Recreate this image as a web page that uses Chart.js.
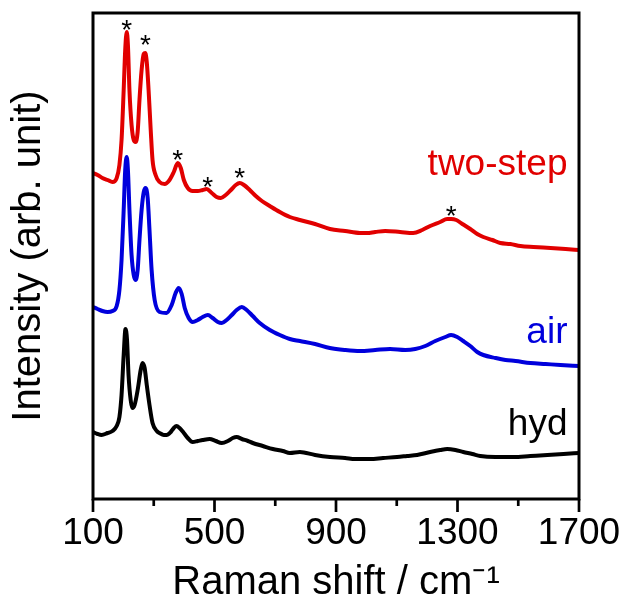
<!DOCTYPE html>
<html><head><meta charset="utf-8">
<script src="https://cdn.jsdelivr.net/npm/chart.js@4.4.1/dist/chart.umd.min.js"></script>
<style>html,body{margin:0;padding:0;background:#fff;}canvas{display:block;}</style>
</head><body>
<canvas id="c" width="624" height="599"></canvas>
<script>
// ---- data (Raman shift in cm-1, intensity in arbitrary units) ----
const shiftTwoStep = [100,115,131,148,164,178,187,194,201,206,211,215,220,227,234,240,247,253,260,267,272,277,283,290,296,306,319,336,352,366,379,389,399,412,428,445,461,474,491,507,521,537,554,570,583,597,616,636,656,682,715,748,781,831,880,930,979,1002,1029,1062,1111,1154,1184,1210,1243,1266,1279,1296,1316,1342,1365,1385,1415,1441,1474,1507,1550,1606,1656,1700];
const intTwoStep   = [326,324,321,319,317,321,334,359,409,449,467,454,409,374,359,357,367,399,429,445,446,437,409,369,339,324,317,315,319,327,336,331,319,311,308,308,309,310,306,302,301,304,309,314,316,314,309,303,298,293,287,282,279,275,270,268,266,266,267,268,267,266,269,273,277,280,280,279,275,270,265,262,259,256,255,253,252,251,250,249];

const shiftAir = [100,115,131,148,164,178,187,194,201,206,211,215,220,227,234,240,247,253,260,267,273,280,286,293,303,319,342,359,372,382,392,402,415,428,445,461,478,494,511,524,540,557,573,590,606,626,649,682,715,748,781,831,880,930,979,1029,1078,1128,1161,1194,1227,1260,1279,1299,1319,1342,1365,1385,1425,1458,1491,1540,1590,1639,1700];
const intAir   = [192,190,188,187,188,193,209,239,289,329,342,329,289,244,224,219,229,259,289,307,311,301,269,229,199,187,186,194,206,211,205,191,181,177,179,182,184,181,177,176,179,184,189,192,189,183,176,169,164,160,158,155,151,149,148,149,150,149,150,153,158,162,164,162,158,153,147,144,141,139,138,136,135,134,133];

const shiftHyd = [100,115,128,148,164,178,187,194,201,207,212,217,224,230,237,247,257,263,270,277,286,296,310,319,333,342,356,366,375,385,399,412,428,445,461,484,504,524,544,560,573,590,610,626,659,692,725,748,781,831,880,930,963,1012,1055,1101,1134,1167,1210,1243,1266,1293,1319,1349,1375,1425,1484,1540,1596,1649,1700];
const intHyd   = [67,65,64,66,68,73,82,104,144,170,159,124,99,91,94,109,129,136,131,114,94,76,68,66,64,64,67,71,73,71,66,61,57,58,59,60,58,56,58,61,62,60,58,56,53,50,48,46,47,44,42,41,40,40,41,42,43,44,47,49,50,49,47,45,43,42,42,43,44,45,46];

const seriesNames = ['two-step', 'air', 'hyd'];
const majorTicks = [100, 500, 900, 1300, 1700];
const minorTicks = [300, 700, 1100, 1500];
// peaks marked with an asterisk (Raman shift, intensity level of the mark)
const starShift = [211, 273, 379, 478, 583, 1279];
const starLevel = [476, 461, 346, 319, 328, 290];
// where the series names sit (Raman shift of right edge, intensity of baseline)
const nameShift = [1662, 1662, 1662];
const nameLevel = [324, 156, 64];

// ---- styling ----
const FONT = "'Liberation Sans', Arial, Helvetica, sans-serif";
const RED = 'rgb(225,0,0)', BLUE = 'rgb(0,0,220)', BLACK = '#000';
const colors = [RED, BLUE, BLACK];

const toXY = (xs, ys) => xs.map((x, i) => ({x, y: ys[i]}));

const decor = {
  id: 'decor',
  afterDatasetsDraw(chart) {
    const {ctx, chartArea: a, scales: {x, y}} = chart;
    ctx.save();
    ctx.strokeStyle = '#000';
    ctx.lineJoin = 'miter';
    ctx.lineWidth = 3;
    ctx.strokeRect(a.left, a.top, a.right - a.left, a.bottom - a.top);
    ctx.lineWidth = 2.7;
    majorTicks.forEach(v => {
      const px = x.getPixelForValue(v);
      ctx.beginPath(); ctx.moveTo(px, a.bottom); ctx.lineTo(px, a.bottom + 13); ctx.stroke();
    });
    minorTicks.forEach(v => {
      const px = x.getPixelForValue(v);
      ctx.beginPath(); ctx.moveTo(px, a.bottom); ctx.lineTo(px, a.bottom + 7); ctx.stroke();
    });
    // series names
    ctx.font = '37px ' + FONT;
    ctx.textAlign = 'right';
    ctx.textBaseline = 'alphabetic';
    seriesNames.forEach((n, i) => {
      ctx.fillStyle = colors[i];
      ctx.fillText(n, x.getPixelForValue(nameShift[i]), y.getPixelForValue(nameLevel[i]));
    });
    // asterisks
    const s = 28;
    ctx.font = s + 'px ' + FONT;
    ctx.textAlign = 'center';
    ctx.fillStyle = '#000';
    starShift.forEach((w, i) => {
      ctx.fillText('*', x.getPixelForValue(w), y.getPixelForValue(starLevel[i]) + 0.57 * s);
    });
    ctx.restore();
  }
};

new Chart(document.getElementById('c'), {
  type: 'line',
  data: {
    datasets: [
      {label: seriesNames[0], data: toXY(shiftTwoStep, intTwoStep), borderColor: RED},
      {label: seriesNames[1], data: toXY(shiftAir, intAir), borderColor: BLUE},
      {label: seriesNames[2], data: toXY(shiftHyd, intHyd), borderColor: BLACK}
    ]
  },
  options: {
    responsive: false,
    animation: false,
    devicePixelRatio: 1,
    elements: {
      point: {radius: 0},
      line: {borderWidth: 4, cubicInterpolationMode: 'monotone', fill: false}
    },
    layout: {padding: {top: 13, right: 45, bottom: 0, left: 0}},
    plugins: {legend: {display: false}, tooltip: {enabled: false}},
    scales: {
      x: {
        type: 'linear', min: 100, max: 1700,
        ticks: {
          stepSize: 400, autoSkip: false, maxRotation: 0, padding: 13,
          color: '#000', font: {family: FONT, size: 37},
          callback: v => String(v)
        },
        grid: {display: false, drawTicks: false},
        border: {display: false},
        title: {display: true, text: 'Raman shift / cm⁻¹', color: '#000',
                font: {family: FONT, size: 40, lineHeight: 0.8}, padding: 0},
        afterFit: s => { s.height = 100; s.paddingLeft = 0; s.paddingRight = 0; }
      },
      y: {
        type: 'linear', min: 0, max: 486,
        ticks: {display: false},
        grid: {display: false, drawTicks: false},
        border: {display: false},
        title: {display: true, text: 'Intensity (arb. unit)', color: '#000',
                font: {family: FONT, size: 40}, padding: {top: 5, bottom: 0}},
        afterFit: s => { s.width = 93; s.paddingTop = 0; s.paddingBottom = 0; }
      }
    }
  },
  plugins: [decor]
});
</script>
</body></html>
